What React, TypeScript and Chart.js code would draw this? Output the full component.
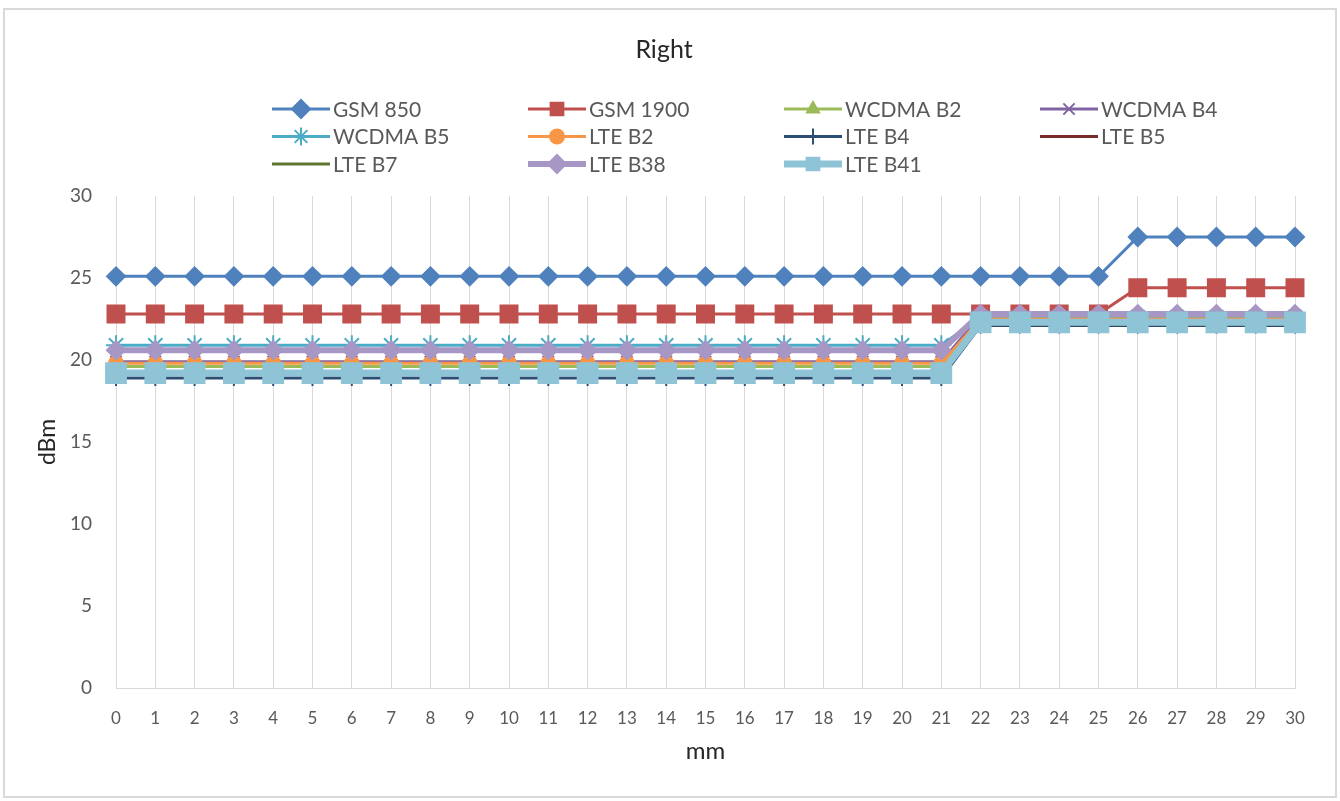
import React, { useEffect, useRef } from 'react';
import { Chart, registerables } from 'chart.js';
import { drawPoint } from 'chart.js/helpers';

Chart.register(...registerables);

const chartTitle = 'Right';
const xTitle = 'mm';
const yTitle = 'dBm';

const categories = ['0', '1', '2', '3', '4', '5', '6', '7', '8', '9', '10', '11', '12', '13', '14', '15', '16', '17', '18', '19', '20', '21', '22', '23', '24', '25', '26', '27', '28', '29', '30'];

const yMin = 0;
const yMax = 30;
const yStep = 5;

const gsm850 = [25.1, 25.1, 25.1, 25.1, 25.1, 25.1, 25.1, 25.1, 25.1, 25.1, 25.1, 25.1, 25.1, 25.1, 25.1, 25.1, 25.1, 25.1, 25.1, 25.1, 25.1, 25.1, 25.1, 25.1, 25.1, 25.1, 27.5, 27.5, 27.5, 27.5, 27.5];
const gsm1900 = [22.8, 22.8, 22.8, 22.8, 22.8, 22.8, 22.8, 22.8, 22.8, 22.8, 22.8, 22.8, 22.8, 22.8, 22.8, 22.8, 22.8, 22.8, 22.8, 22.8, 22.8, 22.8, 22.8, 22.8, 22.8, 22.8, 24.4, 24.4, 24.4, 24.4, 24.4];
const wcdmaB2 = [19.6, 19.6, 19.6, 19.6, 19.6, 19.6, 19.6, 19.6, 19.6, 19.6, 19.6, 19.6, 19.6, 19.6, 19.6, 19.6, 19.6, 19.6, 19.6, 19.6, 19.6, 19.6, 22.4, 22.4, 22.4, 22.4, 22.4, 22.4, 22.4, 22.4, 22.4];
const wcdmaB4 = [19.9, 19.9, 19.9, 19.9, 19.9, 19.9, 19.9, 19.9, 19.9, 19.9, 19.9, 19.9, 19.9, 19.9, 19.9, 19.9, 19.9, 19.9, 19.9, 19.9, 19.9, 19.9, 22.7, 22.7, 22.7, 22.7, 22.7, 22.7, 22.7, 22.7, 22.7];
const wcdmaB5 = [20.9, 20.9, 20.9, 20.9, 20.9, 20.9, 20.9, 20.9, 20.9, 20.9, 20.9, 20.9, 20.9, 20.9, 20.9, 20.9, 20.9, 20.9, 20.9, 20.9, 20.9, 20.9, 22.6, 22.6, 22.6, 22.6, 22.6, 22.6, 22.6, 22.6, 22.6];
const lteB2 = [19.8, 19.8, 19.8, 19.8, 19.8, 19.8, 19.8, 19.8, 19.8, 19.8, 19.8, 19.8, 19.8, 19.8, 19.8, 19.8, 19.8, 19.8, 19.8, 19.8, 19.8, 19.8, 22.5, 22.5, 22.5, 22.5, 22.5, 22.5, 22.5, 22.5, 22.5];
const lteB4 = [18.9, 18.9, 18.9, 18.9, 18.9, 18.9, 18.9, 18.9, 18.9, 18.9, 18.9, 18.9, 18.9, 18.9, 18.9, 18.9, 18.9, 18.9, 18.9, 18.9, 18.9, 18.9, 22.1, 22.1, 22.1, 22.1, 22.1, 22.1, 22.1, 22.1, 22.1];
const lteB5 = [19.3, 19.3, 19.3, 19.3, 19.3, 19.3, 19.3, 19.3, 19.3, 19.3, 19.3, 19.3, 19.3, 19.3, 19.3, 19.3, 19.3, 19.3, 19.3, 19.3, 19.3, 19.3, 22.3, 22.3, 22.3, 22.3, 22.3, 22.3, 22.3, 22.3, 22.3];
const lteB7 = [19.2, 19.2, 19.2, 19.2, 19.2, 19.2, 19.2, 19.2, 19.2, 19.2, 19.2, 19.2, 19.2, 19.2, 19.2, 19.2, 19.2, 19.2, 19.2, 19.2, 19.2, 19.2, 22.2, 22.2, 22.2, 22.2, 22.2, 22.2, 22.2, 22.2, 22.2];
const lteB38 = [20.6, 20.6, 20.6, 20.6, 20.6, 20.6, 20.6, 20.6, 20.6, 20.6, 20.6, 20.6, 20.6, 20.6, 20.6, 20.6, 20.6, 20.6, 20.6, 20.6, 20.6, 20.6, 22.8, 22.8, 22.8, 22.8, 22.8, 22.8, 22.8, 22.8, 22.8];
const lteB41 = [19.2, 19.2, 19.2, 19.2, 19.2, 19.2, 19.2, 19.2, 19.2, 19.2, 19.2, 19.2, 19.2, 19.2, 19.2, 19.2, 19.2, 19.2, 19.2, 19.2, 19.2, 19.2, 22.3, 22.3, 22.3, 22.3, 22.3, 22.3, 22.3, 22.3, 22.3];

const seriesNames = ['GSM 850', 'GSM 1900', 'WCDMA B2', 'WCDMA B4', 'WCDMA B5', 'LTE B2', 'LTE B4', 'LTE B5', 'LTE B7', 'LTE B38', 'LTE B41'];
const seriesValues = [gsm850, gsm1900, wcdmaB2, wcdmaB4, wcdmaB5, lteB2, lteB4, lteB5, lteB7, lteB38, lteB41];
const seriesColors = ['#4F81BD', '#C0504D', '#9BBB59', '#8064A2', '#4BACC6', '#F79646', '#2C4D75', '#772C2A', '#5F7530', '#A797C5', '#8EC4D6'];
const seriesMarkers = ['rectRot', 'rect', 'triangle', 'crossRot', 'star', 'circle', 'cross', 'none', 'none', 'rectRot', 'rect'];
const seriesMarkerSizes = [9, 12, 7, 8, 10, 7, 8, 0, 0, 9, 14];
const seriesLineWidths = [3, 3, 3, 3, 3, 3, 3, 3, 3, 6, 7];

const FONT = 'Lato, "Open Sans", sans-serif';

const frameAndLegend = {
  id: 'frameAndLegend',
  beforeDraw(chart: any) {
    const ctx = chart.ctx;
    ctx.save();
    ctx.fillStyle = '#ffffff';
    ctx.fillRect(0, 0, chart.width, chart.height);
    ctx.strokeStyle = '#d9d9d9';
    ctx.lineWidth = 2;
    ctx.strokeRect(4, 9, chart.width - 8, chart.height - 13);
    ctx.restore();
  },
  afterDraw(chart: any) {
    const ctx = chart.ctx;
    ctx.save();
    ctx.fillStyle = '#262626';
    ctx.font = `25px ${FONT}`;
    ctx.textAlign = 'center';
    ctx.textBaseline = 'middle';
    ctx.fillText(chartTitle, chart.width / 2 - 6, 50);

    const x0 = 272;
    const colW = 256;
    const y0 = 109;
    const rowH = 27.5;
    const lineLen = 58;
    chart.data.datasets.forEach((ds: any, i: number) => {
      const col = i % 4;
      const row = Math.floor(i / 4);
      const x = x0 + col * colW;
      const y = y0 + row * rowH;
      ctx.save();
      ctx.strokeStyle = ds.borderColor;
      ctx.lineWidth = ds.borderWidth;
      ctx.beginPath();
      ctx.moveTo(x, y);
      ctx.lineTo(x + lineLen, y);
      ctx.stroke();
      if (ds.pointRadius > 0) {
        ctx.fillStyle = ds.pointBackgroundColor;
        ctx.strokeStyle = ds.pointBorderColor;
        ctx.lineWidth = 2;
        drawPoint(ctx, { pointStyle: ds.pointStyle, radius: Math.min(ds.pointRadius, 9), rotation: 0, borderWidth: 2 }, x + lineLen / 2, y);
      }
      ctx.fillStyle = '#595959';
      ctx.font = `21px ${FONT}`;
      ctx.textAlign = 'left';
      ctx.textBaseline = 'middle';
      ctx.fillText(ds.label, x + lineLen + 3, y + 1);
      ctx.restore();
    });
    ctx.restore();
  },
};

export default function App() {
  const canvasRef = useRef<HTMLCanvasElement | null>(null);

  useEffect(() => {
    document.body.style.margin = '0';
    const canvas = canvasRef.current;
    if (!canvas) return;

    const datasets = seriesNames.map((name, i) => ({
      label: name,
      data: seriesValues[i],
      borderColor: seriesColors[i],
      backgroundColor: seriesColors[i],
      borderWidth: seriesLineWidths[i],
      pointStyle: seriesMarkers[i] === 'none' ? 'circle' : seriesMarkers[i],
      pointRadius: seriesMarkerSizes[i],
      pointHoverRadius: seriesMarkerSizes[i],
      pointBackgroundColor: seriesColors[i],
      pointBorderColor: seriesColors[i],
      pointBorderWidth: 2,
      tension: 0,
      fill: false,
      order: seriesNames.length - i,
    }));

    const chart = new Chart(canvas, {
      type: 'line',
      data: { labels: categories, datasets },
      plugins: [frameAndLegend],
      options: {
        responsive: false,
        animation: false,
        layout: { padding: { left: 10, right: 45, top: 196, bottom: 10 } },
        plugins: {
          legend: { display: false },
          title: { display: false },
          tooltip: { enabled: false },
        },
        scales: {
          x: {
            type: 'category',
            offset: false,
            grid: { display: true, color: '#d9d9d9', lineWidth: 1, drawTicks: false },
            border: { display: true, color: '#d9d9d9', width: 1 },
            ticks: { color: '#595959', font: { family: FONT, size: 17 }, padding: 20, maxRotation: 0, autoSkip: false },
            title: { display: true, text: xTitle, color: '#262626', font: { family: FONT, size: 24 }, padding: { top: 0, bottom: 25 } },
            afterFit: (scale: any) => { scale.height = 103; },
          },
          y: {
            min: yMin,
            max: yMax,
            grid: { display: false, drawTicks: false },
            border: { display: true, color: '#d9d9d9', width: 1 },
            ticks: { stepSize: yStep, color: '#595959', font: { family: FONT, size: 19 }, padding: 24 },
            title: { display: true, text: yTitle, color: '#262626', font: { family: FONT, size: 23 }, padding: { top: 24, bottom: 0 } },
            afterFit: (scale: any) => { scale.width = 106; },
          },
        },
      },
    });

    return () => chart.destroy();
  }, []);

  return (
    <div style={{ width: 1340, height: 801 }}>
      <canvas ref={canvasRef} width={1340} height={801} style={{ display: 'block' }} />
    </div>
  );
}
